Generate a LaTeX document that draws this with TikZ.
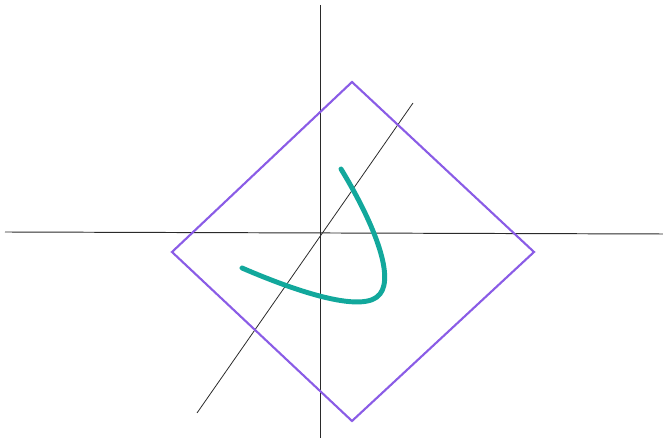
\documentclass[tikz,border=0pt]{standalone}
\usetikzlibrary{calc}
\definecolor{sqpurple}{HTML}{8A5CE6}
\definecolor{crvteal}{HTML}{12A89C}
\definecolor{axgray}{HTML}{2A2A2A}
\tikzset{
  axis/.style={line width=0.55pt, axgray},
  frame/.style={line width=1.2pt, sqpurple, line join=miter},
  curve/.style={line width=2.8pt, crvteal, line cap=round, line join=round},
}
\begin{document}
\begin{tikzpicture}[x=0.02cm, y=-0.02cm]
    \useasboundingbox (0,0) rectangle (663,438);
    % axes
    \coordinate (xl) at (5,232);
    \coordinate (xr) at (663,234);
    \coordinate (yt) at (320,5);
    \coordinate (yb) at (320,438);
    \coordinate (dl) at (197,413);
    \coordinate (dr) at (413,103);
    \draw[axis] (xl) -- (xr);
    \draw[axis] (yt) -- (yb);
    \draw[axis, line width=0.45pt] (dl) -- (dr);

    % rotated square
    \coordinate (top) at (352,82);
    \coordinate (right) at (534,252);
    \coordinate (bot) at (352,421);
    \coordinate (left) at (172,252);
    \draw[frame] (top) -- (right) -- (bot) -- (left) -- cycle;

    % curve
    \coordinate (cs) at (341,169);
    \coordinate (cm) at (380,294);
    \coordinate (ce) at (242,268);
    \draw[curve] (cs) .. controls (372,220) and (395,275) .. (cm)
      .. controls (365,314) and (300,293) .. (ce);
\end{tikzpicture}
\end{document}
